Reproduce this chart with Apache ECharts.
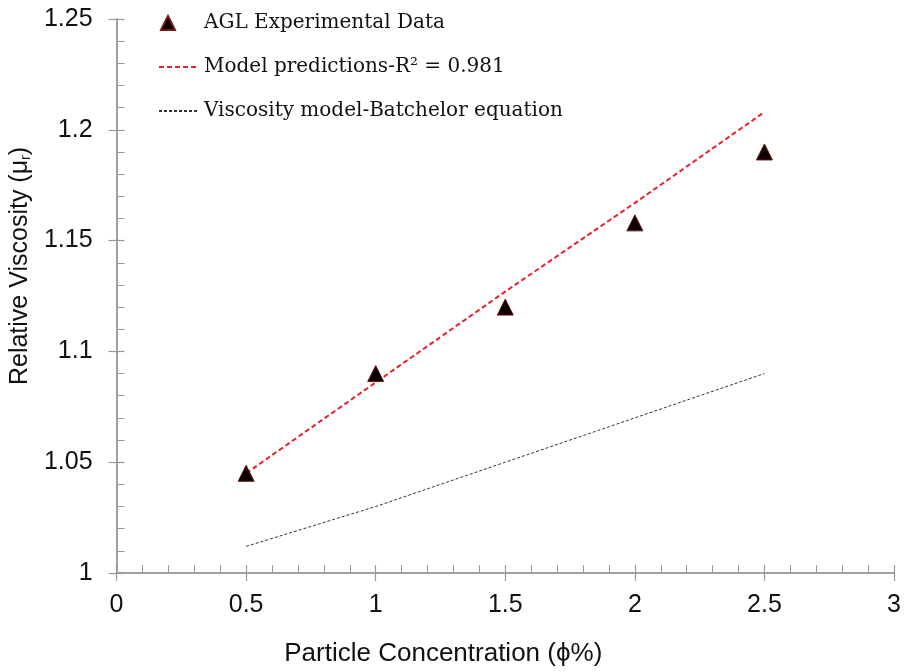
<!DOCTYPE html>
<html><head><meta charset="utf-8">
<script src="https://cdn.jsdelivr.net/npm/echarts@6/dist/echarts.min.js"></script>
<style>html,body{margin:0;padding:0;background:#fff}#c{width:907px;height:672px}</style>
</head><body><div id="c"></div>
<script>
const concentration = [0.5, 1, 1.5, 2, 2.5];
const experimental = [1.045, 1.09, 1.12, 1.158, 1.19];
const modelPred = [1.045, 1.086, 1.127, 1.167, 1.208];
const batchelor = [1.012, 1.030, 1.050, 1.070, 1.090];
const xTicks = [0, 0.5, 1, 1.5, 2, 2.5, 3];
const yTicks = [1, 1.05, 1.1, 1.15, 1.2, 1.25];

const pair = (xs, ys) => xs.map((x, i) => [x, ys[i]]);
const axisCol = '#9a9a9a';
const sans = 'Liberation Sans';
const serif = 'DejaVu Serif';

const chart = echarts.init(document.getElementById('c'));
const grid = {left: 116, right: 13, top: 19, bottom: 97};
const baseX = {type: 'value', min: 0, max: 3, interval: 0.5, gridIndex: 0, position: 'bottom'};
const baseY = {type: 'value', min: 1, max: 1.25, interval: 0.05, gridIndex: 0, position: 'left'};
const lineSt = {show: true, onZero: false, lineStyle: {color: axisCol, width: 1.5}};
chart.setOption({
  animation: false,
  grid: grid,
  legend: [
    {data: ['AGL Experimental Data'], left: 155, top: 8, itemWidth: 14, itemHeight: 14,
     textStyle: {fontFamily: serif, fontSize: 20, color: '#111', padding: [0, 0, 0, 24]}},
    {data: ['Model predictions-R² = 0.981'], left: 153, top: 52, itemWidth: 40, itemHeight: 14,
     itemStyle: {opacity: 0},
     textStyle: {fontFamily: serif, fontSize: 20, color: '#111'}},
    {data: ['Viscosity model-Batchelor equation'], left: 153, top: 96, itemWidth: 40, itemHeight: 14,
     itemStyle: {opacity: 0},
     textStyle: {fontFamily: serif, fontSize: 20, color: '#111'}}
  ],
  xAxis: [
    Object.assign({}, baseX, {
      name: 'Particle Concentration (ϕ%)', nameLocation: 'middle', nameGap: 68,
      nameTextStyle: {fontFamily: sans, fontSize: 26, color: '#111', padding: [0, 124, 0, 0]},
      axisLine: lineSt,
      axisTick: {show: true, inside: true, length: 8, lineStyle: {color: axisCol, width: 1.2}},
      minorTick: {show: true, splitNumber: 5, length: 8, lineStyle: {color: axisCol, width: 1}},
      axisLabel: {fontFamily: sans, fontSize: 25, color: '#111', margin: 20,
                  formatter: v => xTicks.includes(+v.toFixed(2)) ? String(+v.toFixed(2)) : ''},
      splitLine: {show: false}
    }),
    Object.assign({}, baseX, {
      axisLine: lineSt, axisLabel: {show: false}, splitLine: {show: false},
      axisTick: {show: true, inside: false, length: 8, lineStyle: {color: axisCol, width: 1.2}}
    })
  ],
  yAxis: [
    Object.assign({}, baseY, {
      name: 'Relative Viscosity (μ{sub|r})', nameLocation: 'middle', nameGap: 82,
      nameTextStyle: {fontFamily: sans, fontSize: 25, color: '#111', padding: [0, 0, 0, 60],
        rich: {sub: {fontFamily: sans, fontSize: 14, color: '#111', verticalAlign: 'bottom'}}},
      axisLine: lineSt,
      axisTick: {show: true, inside: true, length: 8, lineStyle: {color: axisCol, width: 1.2}},
      minorTick: {show: true, splitNumber: 5, length: 8, lineStyle: {color: axisCol, width: 1}},
      axisLabel: {fontFamily: sans, fontSize: 25, color: '#111', margin: 24,
                  formatter: v => yTicks.includes(+v.toFixed(2)) ? String(+v.toFixed(2)) : ''},
      splitLine: {show: false}
    }),
    Object.assign({}, baseY, {
      axisLine: lineSt, axisLabel: {show: false}, splitLine: {show: false},
      axisTick: {show: true, inside: false, length: 8, lineStyle: {color: axisCol, width: 1.2}}
    })
  ],
  series: [
    {name: 'Viscosity model-Batchelor equation', type: 'line', data: pair(concentration, batchelor),
     symbol: 'none', smooth: false, lineStyle: {color: '#333', width: 1, type: [3, 2]},
     itemStyle: {color: '#333'}},
    {name: 'Model predictions-R² = 0.981', type: 'line', data: pair(concentration, modelPred),
     symbol: 'none', lineStyle: {color: '#e8202a', width: 2, type: [5, 3]},
     itemStyle: {color: '#e8202a'}},
    {name: 'AGL Experimental Data', type: 'scatter', data: pair(concentration, experimental),
     symbol: 'triangle', symbolSize: 16, z: 5,
     itemStyle: {color: '#0a0000', borderColor: '#6a1818', borderWidth: 1, opacity: 1}}
  ]
});
</script></body></html>
